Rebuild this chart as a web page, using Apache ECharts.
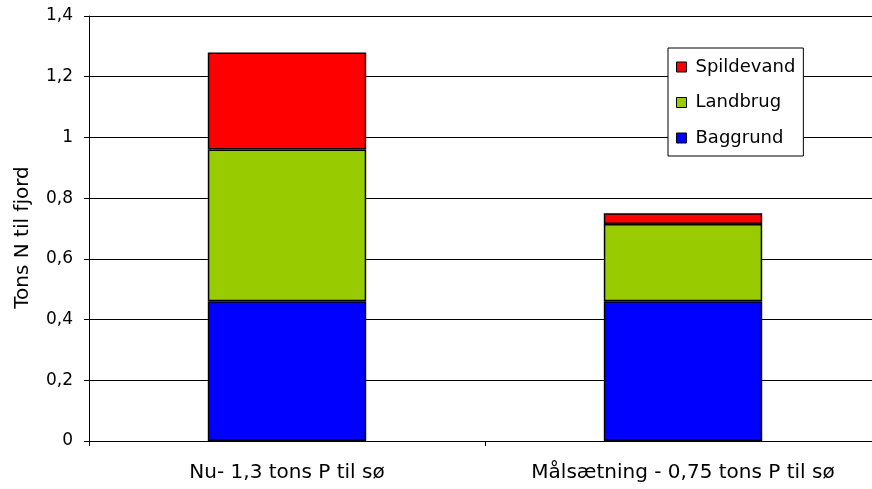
<!DOCTYPE html>
<html><head><meta charset="utf-8">
<script src="https://cdn.jsdelivr.net/npm/echarts@6/dist/echarts.min.js"></script>
<style>html,body{margin:0;padding:0;background:#fff}#c{width:872px;height:489px}</style>
</head><body><div id="c"></div>
<script>
var categories = ['Nu- 1,3 tons P til sø', 'Målsætning - 0,75 tons P til sø'];
var baggrund = [0.46, 0.46];
var landbrug = [0.50, 0.255];
var spildevand = [0.32, 0.035];
var seriesNames = ['Baggrund', 'Landbrug', 'Spildevand'];
var legendOrder = ['Spildevand', 'Landbrug', 'Baggrund'];
var yAxisName = 'Tons N til fjord';

var font = '"DejaVu Sans", sans-serif';
var chart = echarts.init(document.getElementById('c'), null, {renderer: 'canvas'});
function mk(name, data, color) {
  return {
    name: name, type: 'bar', stack: 'total', data: data, barWidth: '40%',
    itemStyle: {color: color, borderColor: '#000', borderWidth: 1.5},
    emphasis: {disabled: true}
  };
}
chart.setOption({
  animation: false,
  backgroundColor: '#fff',
  grid: {left: 89, top: 16, width: 792, height: 425, containLabel: false, outerBoundsMode: 'none'},
  legend: {
    orient: 'vertical', left: 668, top: 48, data: legendOrder,
    icon: 'rect', itemWidth: 10, itemHeight: 10, itemGap: 17.5,
    borderColor: '#000', borderWidth: 1, padding: [10, 8, 9, 8],
    backgroundColor: '#fff',
    itemStyle: {borderColor: '#000', borderWidth: 1},
    textStyle: {fontFamily: font, fontSize: 18, color: '#000', lineHeight: 18, padding: [0, 0, 0, 4]}
  },
  xAxis: {
    type: 'category', data: categories,
    axisLine: {lineStyle: {color: '#000', width: 1}},
    axisTick: {show: true, length: 5, lineStyle: {color: '#000'}},
    axisLabel: {fontFamily: font, fontSize: 20, color: '#000', margin: 22}
  },
  yAxis: {
    type: 'value', min: 0, max: 1.4, interval: 0.2,
    name: yAxisName, nameLocation: 'middle', nameGap: 56, nameRotate: 90,
    nameTextStyle: {fontFamily: font, fontSize: 20, color: '#000', padding: [0, 18, 0, 0]},
    axisLine: {show: true, lineStyle: {color: '#000', width: 1}},
    axisTick: {show: true, length: 5, lineStyle: {color: '#000'}},
    splitLine: {lineStyle: {color: '#000', width: 1}},
    axisLabel: {
      fontFamily: font, fontSize: 17, color: '#000', margin: 16,
      formatter: function (v) { return (Math.round(v * 10) / 10).toString().replace('.', ','); }
    }
  },
  series: [
    mk(seriesNames[0], baggrund, '#0000ff'),
    mk(seriesNames[1], landbrug, '#99cc00'),
    mk(seriesNames[2], spildevand, '#ff0000')
  ]
});
</script></body></html>
